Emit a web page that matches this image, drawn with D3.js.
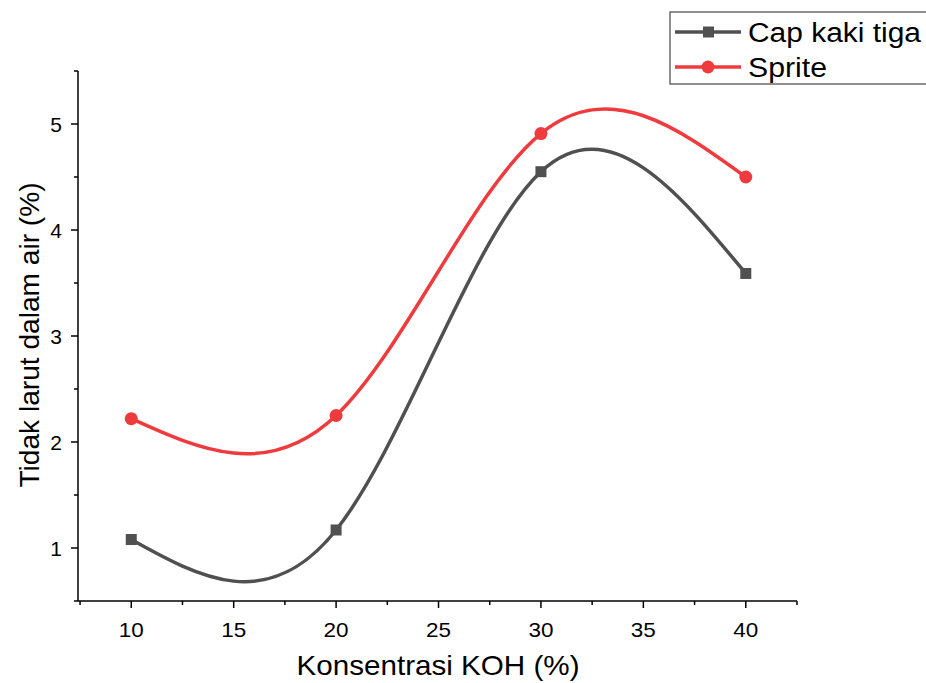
<!DOCTYPE html>
<html>
<head>
<meta charset="utf-8">
<script src="https://cdn.jsdelivr.net/npm/d3@7"></script>
<style>
  body { margin:0; background:#fff; }
  text { font-family: "Liberation Sans", Arial, sans-serif; }
</style>
</head>
<body>
<div id="chart"></div>
<script>
  // data
  var koh = [10, 20, 30, 40];
  var capKakiTiga = [1.08, 1.17, 4.55, 3.59];
  var sprite = [2.22, 2.25, 4.91, 4.50];
  var seriesNames = ["Cap kaki tiga", "Sprite"];
  var seriesColors = ["#505050", "#ef3b3e"];
  var xTicks = [10, 15, 20, 25, 30, 35, 40];
  var yTicks = [1, 2, 3, 4, 5];

  var W = 926, H = 683;
  var svg = d3.select("#chart").append("svg")
      .attr("width", W).attr("height", H);

  var x = d3.scaleLinear().domain([7.4, 42.5]).range([78, 797]);
  var y = d3.scaleLinear().domain([0.5, 5.5]).range([601, 71]);

  // x axis
  var xAxis = svg.append("g").attr("transform", "translate(0," + y(0.5) + ")");
  xAxis.append("line").attr("x1", x(7.4)).attr("x2", x(42.5))
      .attr("stroke", "#000").attr("stroke-width", 1.5);
  var xMinor = d3.range(7.5, 42.6, 2.5);
  xAxis.selectAll(".xm").data(xMinor).enter().append("line")
      .attr("x1", function(d){return x(d);}).attr("x2", function(d){return x(d);})
      .attr("y1", 0).attr("y2", function(d){return xTicks.indexOf(d) >= 0 ? 7 : 4;})
      .attr("stroke", "#000").attr("stroke-width", 1.5);
  xAxis.selectAll(".xl").data(xTicks).enter().append("text")
      .attr("x", function(d){return x(d);}).attr("y", 36)
      .attr("text-anchor", "middle").attr("font-size", 21)
      .attr("textLength", 25).attr("lengthAdjust", "spacingAndGlyphs")
      .text(function(d){return d;});

  // y axis
  var yAxis = svg.append("g").attr("transform", "translate(" + x(7.4) + ",0)");
  yAxis.append("line").attr("y1", y(0.5)).attr("y2", y(5.5))
      .attr("stroke", "#000").attr("stroke-width", 1.5);
  var yMinor = d3.range(0.5, 5.6, 0.5);
  yAxis.selectAll(".ym").data(yMinor).enter().append("line")
      .attr("y1", function(d){return y(d);}).attr("y2", function(d){return y(d);})
      .attr("x1", 0).attr("x2", function(d){return yTicks.indexOf(d) >= 0 ? -7 : -4;})
      .attr("stroke", "#000").attr("stroke-width", 1.5);
  yAxis.selectAll(".yl").data(yTicks).enter().append("text")
      .attr("x", -16).attr("y", function(d){return y(d) + 7.5;})
      .attr("text-anchor", "end").attr("font-size", 21)
      .text(function(d){return d;});

  // axis titles
  svg.append("text").attr("x", 438).attr("y", 675)
      .attr("text-anchor", "middle").attr("font-size", 28)
      .attr("textLength", 283).attr("lengthAdjust", "spacingAndGlyphs")
      .text("Konsentrasi KOH (%)");
  svg.append("text")
      .attr("transform", "translate(39," + 335 + ") rotate(-90)")
      .attr("text-anchor", "middle").attr("font-size", 28)
      .attr("textLength", 305).attr("lengthAdjust", "spacingAndGlyphs")
      .text("Tidak larut dalam air (%)");

  var line = d3.line()
      .x(function(d){return x(d[0]);})
      .y(function(d){return y(d[1]);})
      .curve(d3.curveNatural);

  var allSeries = [capKakiTiga, sprite];
  allSeries.forEach(function(vals, s){
    var pts = koh.map(function(k, i){return [k, vals[i]];});
    svg.append("path").datum(pts).attr("d", line)
        .attr("fill", "none").attr("stroke", seriesColors[s]).attr("stroke-width", 3.5);
    if (s === 0) {
      svg.selectAll(".sq").data(pts).enter().append("rect")
          .attr("x", function(d){return x(d[0]) - 5.5;})
          .attr("y", function(d){return y(d[1]) - 5.5;})
          .attr("width", 11).attr("height", 11)
          .attr("fill", seriesColors[s]);
    } else {
      svg.selectAll(".ci").data(pts).enter().append("circle")
          .attr("cx", function(d){return x(d[0]);})
          .attr("cy", function(d){return y(d[1]);})
          .attr("r", 6.5).attr("fill", seriesColors[s]);
    }
  });

  // legend
  var legendWidths = [173, 79];
  var lg = svg.append("g");
  lg.append("rect").attr("x", 670).attr("y", 12).attr("width", 262).attr("height", 72)
      .attr("fill", "#fff").attr("stroke", "#444").attr("stroke-width", 1.2);
  seriesNames.forEach(function(name, i){
    var cy = 32 + i * 35;
    lg.append("line").attr("x1", 675).attr("x2", 741).attr("y1", cy).attr("y2", cy)
        .attr("stroke", seriesColors[i]).attr("stroke-width", 3.5);
    if (i === 0) {
      lg.append("rect").attr("x", 703).attr("y", cy - 5.5).attr("width", 11).attr("height", 11)
          .attr("fill", seriesColors[i]);
    } else {
      lg.append("circle").attr("cx", 708).attr("cy", cy).attr("r", 6.5).attr("fill", seriesColors[i]);
    }
    lg.append("text").attr("x", 748).attr("y", cy + 10).attr("font-size", 27)
        .attr("textLength", legendWidths[i]).attr("lengthAdjust", "spacingAndGlyphs")
        .text(name);
  });
</script>
</body>
</html>
